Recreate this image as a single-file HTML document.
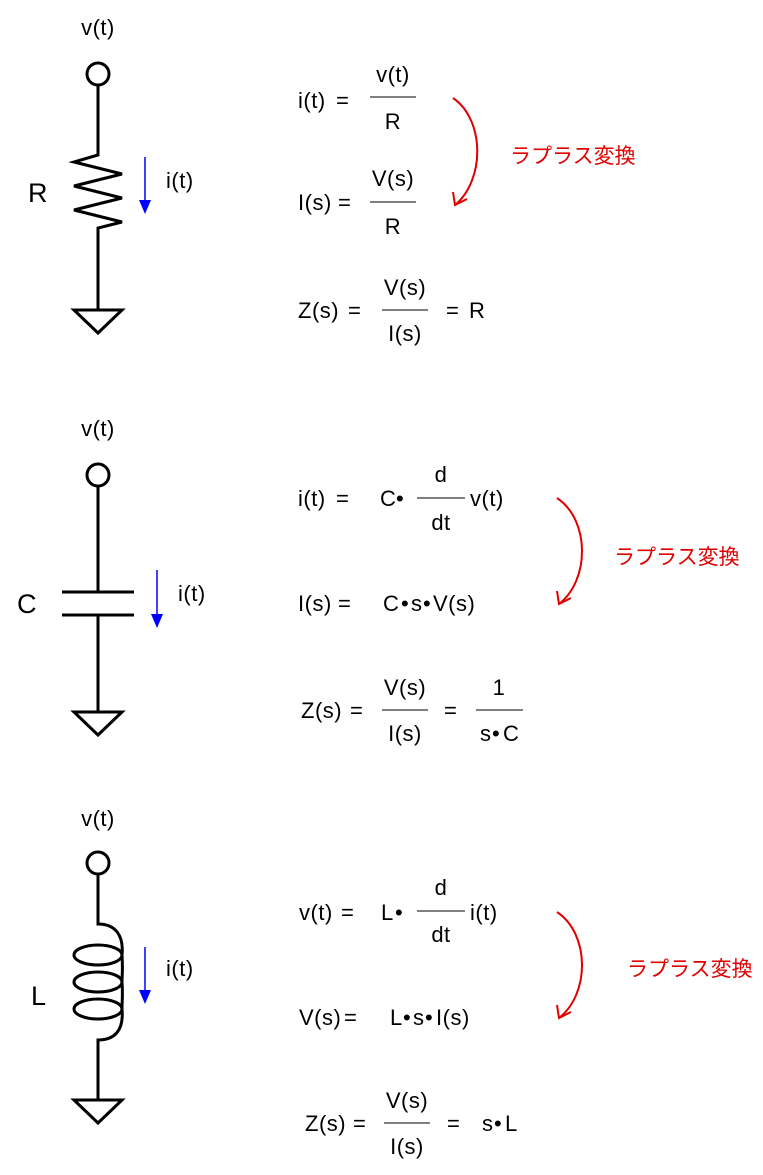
<!DOCTYPE html>
<html><head><meta charset="utf-8"><style>
html,body{margin:0;padding:0;background:#fff;}
svg{display:block;}
text{font-family:"Liberation Sans","Noto Sans CJK JP",sans-serif;font-size:22px;fill:#000;letter-spacing:0.5px;}
.r{fill:#e00000;font-size:21px;letter-spacing:0;}
.b{font-size:27px;}
</style></head><body>
<svg width="763" height="1175" viewBox="0 0 763 1175">
<g stroke="#000" stroke-width="3" fill="none">
<circle cx="98" cy="74" r="11"/>
<path d="M98,85 V155 L74,162 L122,174 L74,186 L122,198 L74,210 L122,222 L98,228 V310"/>
<path d="M74,310 H122 L98,333 Z"/>
<circle cx="98" cy="475" r="11"/>
<path d="M98,486 V592 M62,592 H134 M62,615 H134 M98,615 V712"/>
<path d="M74,712 H122 L98,735 Z"/>
<circle cx="98" cy="863" r="11"/>
<path d="M98,874 V924 C115,924 124,935 122,955"/>
<ellipse cx="98" cy="955" rx="24" ry="10"/>
<ellipse cx="98" cy="982" rx="24" ry="10"/>
<ellipse cx="98" cy="1009" rx="24" ry="10"/>
<path d="M122,955 C123,970 122,975 122,982 M122,982 C123,995 122,1000 122,1009 C124,1030 115,1040 98,1040 V1100"/>
<path d="M74,1100 H122 L98,1123 Z"/>
</g>
<g stroke="#0000ff" stroke-width="1.5">
<line x1="145" y1="157" x2="145" y2="202"/>
<line x1="157" y1="570" x2="157" y2="616"/>
<line x1="145" y1="947" x2="145" y2="992"/>
</g>
<g fill="#0000ff">
<path d="M139,200 H151 L145,214 Z"/>
<path d="M151,614 H163 L157,628 Z"/>
<path d="M139,990 H151 L145,1004 Z"/>
</g>
<g stroke="#e00000" stroke-width="2" fill="none">
<path d="M453,98 C485,120 485,180 455,205"/>
<path d="M453,192 L455,205 L467,199"/>
<path d="M557,498 C590,520 590,580 559,604"/>
<path d="M557,591 L559,604 L571,598"/>
<path d="M557,912 C590,934 590,994 559,1018"/>
<path d="M557,1005 L559,1018 L571,1012"/>
</g>
<g stroke="#000" stroke-width="1">
<line x1="370" y1="97" x2="416" y2="97"/>
<line x1="370" y1="202" x2="416" y2="202"/>
<line x1="382" y1="310" x2="428" y2="310"/>
<line x1="417" y1="498" x2="465" y2="498"/>
<line x1="382" y1="710" x2="428" y2="710"/>
<line x1="476" y1="710" x2="523" y2="710"/>
<line x1="417" y1="911" x2="465" y2="911"/>
<line x1="384" y1="1123" x2="430" y2="1123"/>
</g>
<!-- section 1 -->
<text x="98" y="35" text-anchor="middle">v(t)</text>
<text x="28" y="202" class="b">R</text>
<text x="166" y="188">i(t)</text>
<text x="298" y="108">i(t)</text><text x="336" y="108">=</text>
<text x="393" y="82" text-anchor="middle">v(t)</text>
<text x="393" y="129" text-anchor="middle">R</text>
<text x="298" y="210">I(s)</text><text x="338" y="210">=</text>
<text x="393" y="186" text-anchor="middle">V(s)</text>
<text x="393" y="234" text-anchor="middle">R</text>
<text x="298" y="318">Z(s)</text><text x="348" y="318">=</text>
<text x="405" y="295" text-anchor="middle">V(s)</text>
<text x="405" y="341" text-anchor="middle">I(s)</text>
<text x="446" y="318">=</text><text x="469" y="318">R</text>
<text x="510" y="163" class="r">ラプラス変換</text>
<!-- section 2 -->
<text x="98" y="436" text-anchor="middle">v(t)</text>
<text x="17" y="613" class="b">C</text>
<text x="178" y="601">i(t)</text>
<text x="298" y="506">i(t)</text><text x="336" y="506">=</text>
<text x="380" y="506">C</text><text x="396" y="506">•</text>
<text x="441" y="482" text-anchor="middle">d</text>
<text x="441" y="530" text-anchor="middle">dt</text>
<text x="470" y="506">v(t)</text>
<text x="298" y="611">I(s)</text><text x="338" y="611">=</text>
<text x="383" y="611">C</text><text x="401" y="611">•</text><text x="411" y="611">s</text><text x="423" y="611">•</text><text x="433" y="611">V(s)</text>
<text x="301" y="718">Z(s)</text><text x="350" y="718">=</text>
<text x="405" y="695" text-anchor="middle">V(s)</text>
<text x="405" y="741" text-anchor="middle">I(s)</text>
<text x="444" y="718">=</text>
<text x="499" y="695" text-anchor="middle">1</text>
<text x="480" y="741">s</text><text x="492" y="741">•</text><text x="503" y="741">C</text>
<text x="614" y="564" class="r">ラプラス変換</text>
<!-- section 3 -->
<text x="98" y="826" text-anchor="middle">v(t)</text>
<text x="31" y="1005" class="b">L</text>
<text x="166" y="976">i(t)</text>
<text x="299" y="920">v(t)</text><text x="341" y="920">=</text>
<text x="381" y="920">L</text><text x="395" y="920">•</text>
<text x="441" y="895" text-anchor="middle">d</text>
<text x="441" y="942" text-anchor="middle">dt</text>
<text x="470" y="920">i(t)</text>
<text x="299" y="1025">V(s)</text><text x="344" y="1025">=</text>
<text x="390" y="1025">L</text><text x="403" y="1025">•</text><text x="413" y="1025">s</text><text x="425" y="1025">•</text><text x="436" y="1025">I(s)</text>
<text x="305" y="1131">Z(s)</text><text x="353" y="1131">=</text>
<text x="407" y="1108" text-anchor="middle">V(s)</text>
<text x="407" y="1154" text-anchor="middle">I(s)</text>
<text x="447" y="1131">=</text>
<text x="482" y="1131">s</text><text x="494" y="1131">•</text><text x="505" y="1131">L</text>
<text x="627" y="976" class="r">ラプラス変換</text>
</svg>
</body></html>
